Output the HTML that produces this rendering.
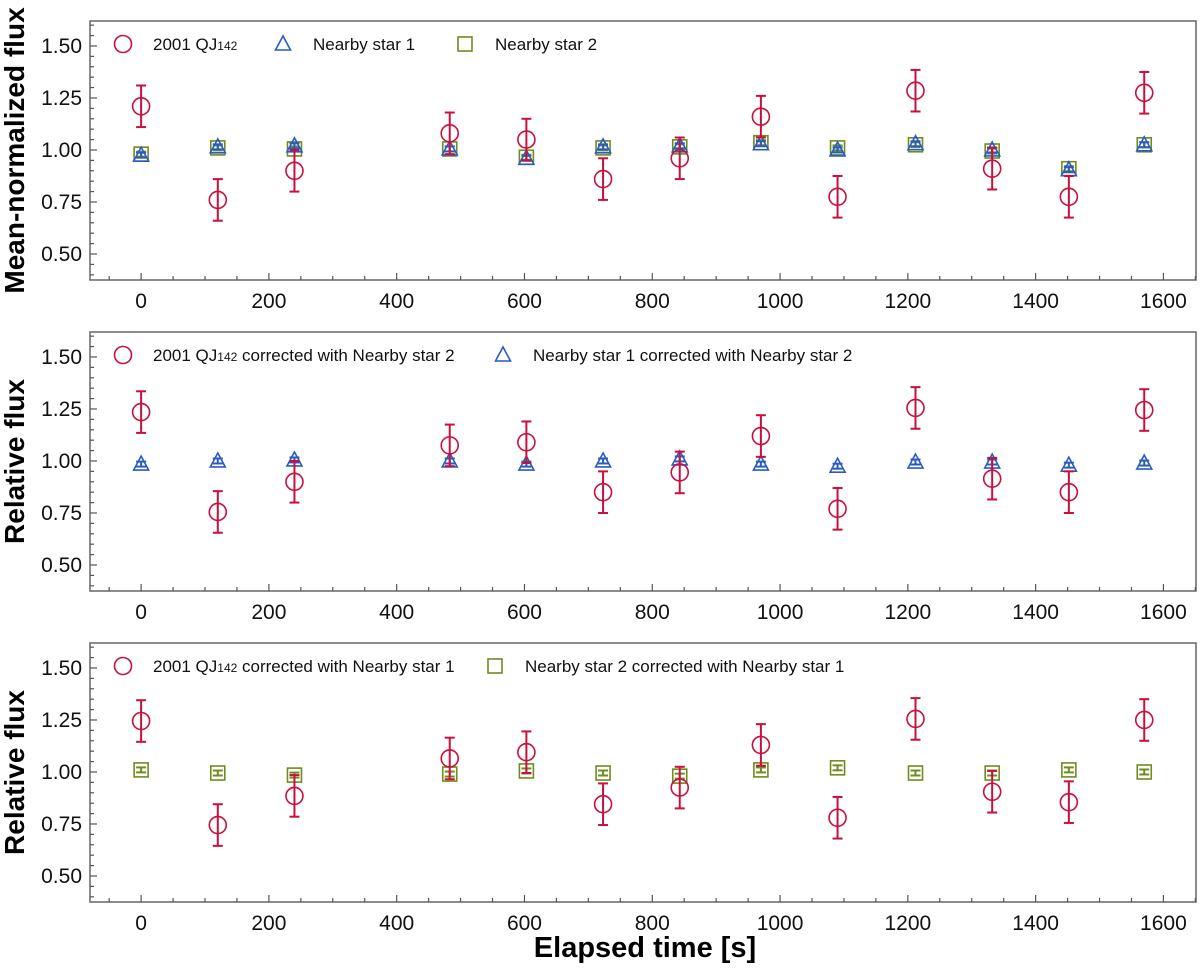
<!DOCTYPE html>
<html><head><meta charset="utf-8">
<style>
html,body{margin:0;padding:0;background:#fff;}
svg text{font-family:"Liberation Sans",Arial,sans-serif;}
</style></head>
<body>
<svg id="chart" width="1200" height="972" xmlns="http://www.w3.org/2000/svg"></svg>
<script>
const times = [0,120,240,483,603,723,843,970,1090,1212,1332,1452,1570];
const p1Target = [1.21,0.76,0.90,1.08,1.05,0.86,0.96,1.16,0.775,1.285,0.91,0.775,1.275];
const p1Star1 = [0.975,1.015,1.02,1.005,0.96,1.015,1.02,1.03,1.0,1.03,1.0,0.905,1.025];
const p1Star2 = [0.98,1.01,1.005,1.005,0.965,1.01,1.015,1.035,1.01,1.025,0.995,0.91,1.025];
const p2Target = [1.235,0.755,0.90,1.075,1.09,0.85,0.945,1.12,0.77,1.255,0.915,0.85,1.245];
const p2Star1 = [0.985,1.0,1.005,1.0,0.985,1.0,1.01,0.985,0.975,0.995,0.995,0.98,0.99];
const p3Target = [1.245,0.745,0.885,1.065,1.095,0.845,0.925,1.13,0.78,1.255,0.905,0.855,1.25];
const p3Star2 = [1.01,0.995,0.985,0.99,1.005,0.995,0.98,1.01,1.02,0.995,0.995,1.01,1.0];
const targetErr = 0.1;
const starErr = 0.012;
const xTicks = [0,200,400,600,800,1000,1200,1400,1600];
const yTicks = [0.50,0.75,1.00,1.25,1.50];

const RED="#c8103c", BLUE="#2a5cbf", GREEN="#6f8c1e";
const svg=document.getElementById('chart');
const NS="http://www.w3.org/2000/svg";
function mk(tag,attrs,parent){const e=document.createElementNS(NS,tag);for(const k in attrs)e.setAttribute(k,attrs[k]);(parent||svg).appendChild(e);return e;}

const L=90,R=1196,PH=259;
const xMin=-80,xMax=1651;
function xs(v){return L+(v-xMin)/(xMax-xMin)*(R-L);}
function makeY(top){const yMin=0.375,yMax=1.62;return v=>top+PH-(v-yMin)/(yMax-yMin)*PH;}

function marker(g,type,cx,cy,color){
  let e;
  if(type==='c') e=mk('circle',{cx:cx,cy:cy,r:8.5,fill:'none',stroke:color,'stroke-width':1.6},g);
  else if(type==='t') e=mk('polygon',{points:`${cx},${cy-8} ${cx-7.5},${cy+6} ${cx+7.5},${cy+6}`,fill:'none',stroke:color,'stroke-width':1.6},g);
  else e=mk('rect',{x:cx-7,y:cy-7,width:14,height:14,fill:'none',stroke:color,'stroke-width':1.6},g);
  return e;
}
function series(g,vals,err,type,color,ys,name){
  const sg=mk('g',{},g);
  
  
  vals.forEach((v,i)=>{
    const cx=xs(times[i]),cy=ys(v),y1=ys(v+err),y2=ys(v-err);
    mk('line',{x1:cx,x2:cx,y1:y1,y2:y2,stroke:color,'stroke-width':2},sg);
    mk('line',{x1:cx-5,x2:cx+5,y1:y1,y2:y1,stroke:color,'stroke-width':2},sg);
    mk('line',{x1:cx-5,x2:cx+5,y1:y2,y2:y2,stroke:color,'stroke-width':2},sg);
    const m=marker(sg,type,cx,cy,color);
    
    
  });
}
function legendEntry(g,type,color,x,y,label,sub,rest){
  const lg=mk('g',{},g);
  
  
  marker(lg,type,x,y,color);
  const t=mk('text',{x:x+30,y:y+6,'font-size':17,fill:'#111'},lg);
  t.textContent=label;
  if(sub){const s=mk('tspan',{'font-size':12},t);s.textContent=sub;
    if(rest){const r=mk('tspan',{},t);r.textContent=rest;}}
}
function panel(top,ylabel,name){
  const g=mk('g',{});
  
  
  const ys=makeY(top);
  mk('rect',{x:L,y:top,width:R-L,height:PH,fill:'none',stroke:'#666','stroke-width':1.5},g);
  for(let v=-50;v<=1650;v+=50){
    const x=xs(v);const major=v%200===0;
    mk('line',{x1:x,x2:x,y1:top+PH,y2:top+PH-(major?7:4),stroke:'#555','stroke-width':1.2},g);
  }
  xTicks.forEach(v=>{const t=mk('text',{x:xs(v),y:top+PH+28,'font-size':21,'text-anchor':'middle',fill:'#111'},g);t.textContent=v;});
  for(let k=0;k<=24;k++){const v=0.40+k*0.05;if(v>1.62)break;
    const y=ys(v);const major=Math.abs((v*100)%25)<0.01||Math.abs((v*100)%25-25)<0.01;
    mk('line',{x1:L,x2:L+(major?7:4),y1:y,y2:y,stroke:'#555','stroke-width':1.2},g);}
  yTicks.forEach(v=>{const t=mk('text',{x:L-8,y:ys(v)+7,'font-size':21,'text-anchor':'end',fill:'#111'},g);t.textContent=v.toFixed(2);});
  const yl=mk('text',{x:0,y:0,'font-size':28,'font-weight':'bold','text-anchor':'middle',fill:'#000',transform:`translate(24,${top+PH/2}) rotate(-90)`},g);
  yl.textContent=ylabel;
  
  
  return {g,ys};
}
const a=panel(21,'Mean-normalized flux','panel-raw');
series(a.g,p1Star2,starErr,'s',GREEN,a.ys,'nearby-star-2');
series(a.g,p1Star1,starErr,'t',BLUE,a.ys,'nearby-star-1');
series(a.g,p1Target,targetErr,'c',RED,a.ys,'target-2001-qj142');
legendEntry(a.g,'c',RED,123,44,'2001 QJ','142','');
legendEntry(a.g,'t',BLUE,283,44,'Nearby star 1');
legendEntry(a.g,'s',GREEN,465,44,'Nearby star 2');

const b=panel(332,'Relative flux','panel-corrected-star2');
series(b.g,p2Star1,starErr,'t',BLUE,b.ys,'star1-corrected');
series(b.g,p2Target,targetErr,'c',RED,b.ys,'target-corrected-star2');
legendEntry(b.g,'c',RED,123,355,'2001 QJ','142',' corrected with Nearby star 2');
legendEntry(b.g,'t',BLUE,503,355,'Nearby star 1 corrected with Nearby star 2');

const c=panel(643,'Relative flux','panel-corrected-star1');
series(c.g,p3Star2,starErr,'s',GREEN,c.ys,'star2-corrected');
series(c.g,p3Target,targetErr,'c',RED,c.ys,'target-corrected-star1');
legendEntry(c.g,'c',RED,123,666,'2001 QJ','142',' corrected with Nearby star 1');
legendEntry(c.g,'s',GREEN,495,666,'Nearby star 2 corrected with Nearby star 1');

const xt=mk('text',{x:645,y:957,'font-size':29,'font-weight':'bold','text-anchor':'middle',fill:'#000'});
xt.textContent='Elapsed time [s]';


</script>
</body></html>
